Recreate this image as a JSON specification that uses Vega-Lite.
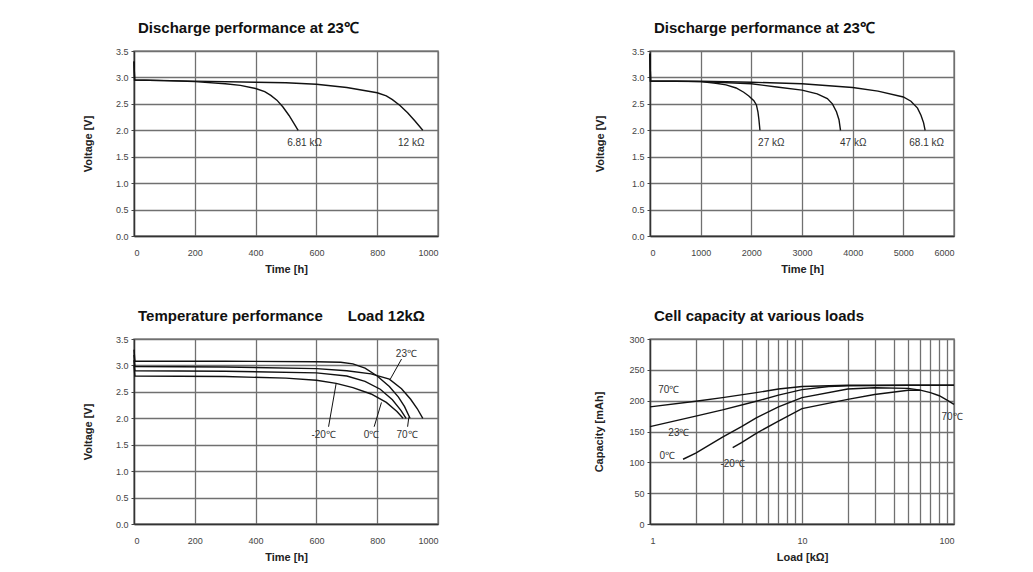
{
  "$schema": "https://vega.github.io/schema/vega-lite/v6.json",
  "background": "white",
  "padding": {"left": 81, "top": 20, "right": 10, "bottom": 10},
  "config": {
    "font": "Liberation Sans",
    "view": {"stroke": "#8a8a8a", "strokeWidth": 1.5},
    "axis": {
      "grid": true, "gridColor": "#707070", "gridWidth": 1.3,
      "domainColor": "#333", "domainWidth": 1.4,
      "labelFont": "Liberation Sans", "labelFontSize": 9, "labelColor": "#444",
      "titleFont": "Liberation Sans", "titleFontSize": 11, "titleFontWeight": "bold", "titleColor": "#222",
      "tickColor": "#444"
    },
    "axisX": {"ticks": false, "labelPadding": 12, "titlePadding": 6},
    "axisY": {"tickSize": 3, "labelPadding": 3, "titlePadding": 22},
    "title": {"anchor": "start", "frame": "group", "fontSize": 15, "fontWeight": "bold", "color": "#111", "baseline": "alphabetic", "offset": 11, "dx": 4},
    "text": {"font": "Liberation Sans", "fontSize": 10, "color": "#333"},
    "line": {"color": "#111", "strokeWidth": 1.4}
  },
  "datasets": {
    "p1": [
      {"s": "6.81", "t": 0, "v": 3.3}, {"s": "6.81", "t": 2, "v": 2.95}, {"s": "6.81", "t": 100, "v": 2.94}, {"s": "6.81", "t": 200, "v": 2.92}, {"s": "6.81", "t": 300, "v": 2.88}, {"s": "6.81", "t": 350, "v": 2.85}, {"s": "6.81", "t": 400, "v": 2.79}, {"s": "6.81", "t": 430, "v": 2.73}, {"s": "6.81", "t": 450, "v": 2.66}, {"s": "6.81", "t": 470, "v": 2.57}, {"s": "6.81", "t": 490, "v": 2.44}, {"s": "6.81", "t": 510, "v": 2.28}, {"s": "6.81", "t": 525, "v": 2.14}, {"s": "6.81", "t": 540, "v": 2.0},
      {"s": "12", "t": 0, "v": 3.3}, {"s": "12", "t": 2, "v": 2.95}, {"s": "12", "t": 200, "v": 2.93}, {"s": "12", "t": 400, "v": 2.91}, {"s": "12", "t": 500, "v": 2.9}, {"s": "12", "t": 600, "v": 2.87}, {"s": "12", "t": 700, "v": 2.81}, {"s": "12", "t": 800, "v": 2.71}, {"s": "12", "t": 830, "v": 2.65}, {"s": "12", "t": 850, "v": 2.58}, {"s": "12", "t": 875, "v": 2.47}, {"s": "12", "t": 900, "v": 2.33}, {"s": "12", "t": 925, "v": 2.17}, {"s": "12", "t": 950, "v": 2.0}
    ],
    "p1lab": [
      {"label": "6.81 kΩ", "t": 561, "v": 1.76},
      {"label": "12 kΩ", "t": 912, "v": 1.76}
    ],
    "p2": [
      {"s": "27", "t": 0, "v": 3.45}, {"s": "27", "t": 10, "v": 2.93}, {"s": "27", "t": 500, "v": 2.93}, {"s": "27", "t": 1000, "v": 2.92}, {"s": "27", "t": 1300, "v": 2.89}, {"s": "27", "t": 1500, "v": 2.86}, {"s": "27", "t": 1700, "v": 2.8}, {"s": "27", "t": 1850, "v": 2.72}, {"s": "27", "t": 1950, "v": 2.65}, {"s": "27", "t": 2050, "v": 2.56}, {"s": "27", "t": 2100, "v": 2.48}, {"s": "27", "t": 2130, "v": 2.35}, {"s": "27", "t": 2150, "v": 2.2}, {"s": "27", "t": 2170, "v": 2.0},
      {"s": "47", "t": 0, "v": 3.45}, {"s": "47", "t": 10, "v": 2.93}, {"s": "47", "t": 1000, "v": 2.92}, {"s": "47", "t": 2000, "v": 2.88}, {"s": "47", "t": 2500, "v": 2.82}, {"s": "47", "t": 3000, "v": 2.76}, {"s": "47", "t": 3300, "v": 2.69}, {"s": "47", "t": 3500, "v": 2.6}, {"s": "47", "t": 3600, "v": 2.5}, {"s": "47", "t": 3680, "v": 2.35}, {"s": "47", "t": 3730, "v": 2.2}, {"s": "47", "t": 3760, "v": 2.0},
      {"s": "68.1", "t": 0, "v": 3.45}, {"s": "68.1", "t": 10, "v": 2.93}, {"s": "68.1", "t": 1000, "v": 2.93}, {"s": "68.1", "t": 2000, "v": 2.91}, {"s": "68.1", "t": 3000, "v": 2.88}, {"s": "68.1", "t": 4000, "v": 2.81}, {"s": "68.1", "t": 4500, "v": 2.74}, {"s": "68.1", "t": 5000, "v": 2.63}, {"s": "68.1", "t": 5150, "v": 2.55}, {"s": "68.1", "t": 5280, "v": 2.42}, {"s": "68.1", "t": 5350, "v": 2.28}, {"s": "68.1", "t": 5400, "v": 2.14}, {"s": "68.1", "t": 5430, "v": 2.0}
    ],
    "p2lab": [
      {"label": "27 kΩ", "t": 2394, "v": 1.76},
      {"label": "47 kΩ", "t": 4010, "v": 1.76},
      {"label": "68.1 kΩ", "t": 5460, "v": 1.76}
    ],
    "p3": [
      {"s": "70", "t": 0, "v": 3.3}, {"s": "70", "t": 3, "v": 3.08}, {"s": "70", "t": 300, "v": 3.08}, {"s": "70", "t": 600, "v": 3.07}, {"s": "70", "t": 680, "v": 3.06}, {"s": "70", "t": 720, "v": 3.03}, {"s": "70", "t": 760, "v": 2.95}, {"s": "70", "t": 800, "v": 2.8}, {"s": "70", "t": 840, "v": 2.6}, {"s": "70", "t": 870, "v": 2.4}, {"s": "70", "t": 890, "v": 2.22}, {"s": "70", "t": 908, "v": 2.0},
      {"s": "23", "t": 0, "v": 3.2}, {"s": "23", "t": 3, "v": 2.98}, {"s": "23", "t": 300, "v": 2.97}, {"s": "23", "t": 600, "v": 2.94}, {"s": "23", "t": 700, "v": 2.9}, {"s": "23", "t": 780, "v": 2.84}, {"s": "23", "t": 840, "v": 2.74}, {"s": "23", "t": 880, "v": 2.56}, {"s": "23", "t": 910, "v": 2.36}, {"s": "23", "t": 932, "v": 2.18}, {"s": "23", "t": 950, "v": 2.0},
      {"s": "0", "t": 0, "v": 3.1}, {"s": "0", "t": 3, "v": 2.9}, {"s": "0", "t": 300, "v": 2.89}, {"s": "0", "t": 600, "v": 2.86}, {"s": "0", "t": 700, "v": 2.8}, {"s": "0", "t": 760, "v": 2.7}, {"s": "0", "t": 810, "v": 2.55}, {"s": "0", "t": 850, "v": 2.35}, {"s": "0", "t": 878, "v": 2.15}, {"s": "0", "t": 895, "v": 2.0},
      {"s": "-20", "t": 0, "v": 3.0}, {"s": "-20", "t": 3, "v": 2.8}, {"s": "-20", "t": 300, "v": 2.79}, {"s": "-20", "t": 500, "v": 2.76}, {"s": "-20", "t": 600, "v": 2.72}, {"s": "-20", "t": 665, "v": 2.66}, {"s": "-20", "t": 720, "v": 2.58}, {"s": "-20", "t": 780, "v": 2.46}, {"s": "-20", "t": 830, "v": 2.3}, {"s": "-20", "t": 865, "v": 2.13}, {"s": "-20", "t": 885, "v": 2.0}
    ],
    "p3lab": [
      {"label": "23℃", "t": 896, "v": 3.22},
      {"label": "-20℃", "t": 624, "v": 1.69},
      {"label": "0℃", "t": 781, "v": 1.69},
      {"label": "70℃", "t": 898, "v": 1.69}
    ],
    "p3lead": [
      {"t": 880, "v": 3.12, "t2": 843, "v2": 2.74},
      {"t": 640, "v": 1.84, "t2": 665, "v2": 2.66},
      {"t": 790, "v": 1.84, "t2": 814, "v2": 2.3},
      {"t": 900, "v": 1.84, "t2": 904, "v2": 2.02}
    ],
    "p4": [
      {"s": "70a", "x": 1, "y": 190}, {"s": "70a", "x": 2, "y": 199}, {"s": "70a", "x": 3, "y": 205}, {"s": "70a", "x": 5, "y": 213}, {"s": "70a", "x": 7, "y": 219}, {"s": "70a", "x": 10, "y": 223}, {"s": "70a", "x": 20, "y": 225}, {"s": "70a", "x": 50, "y": 225}, {"s": "70a", "x": 100, "y": 225},
      {"s": "23", "x": 1, "y": 158}, {"s": "23", "x": 2, "y": 175}, {"s": "23", "x": 3, "y": 185}, {"s": "23", "x": 5, "y": 199}, {"s": "23", "x": 7, "y": 209}, {"s": "23", "x": 10, "y": 218}, {"s": "23", "x": 15, "y": 223}, {"s": "23", "x": 20, "y": 224}, {"s": "23", "x": 50, "y": 225}, {"s": "23", "x": 100, "y": 225},
      {"s": "0", "x": 1.65, "y": 105}, {"s": "0", "x": 2, "y": 115}, {"s": "0", "x": 3, "y": 141}, {"s": "0", "x": 4, "y": 158}, {"s": "0", "x": 5, "y": 172}, {"s": "0", "x": 7, "y": 190}, {"s": "0", "x": 10, "y": 205}, {"s": "0", "x": 20, "y": 219}, {"s": "0", "x": 30, "y": 221}, {"s": "0", "x": 50, "y": 220}, {"s": "0", "x": 60, "y": 217}, {"s": "0", "x": 70, "y": 213}, {"s": "0", "x": 80, "y": 208}, {"s": "0", "x": 90, "y": 201}, {"s": "0", "x": 100, "y": 194},
      {"s": "-20", "x": 3.5, "y": 124}, {"s": "-20", "x": 4, "y": 132}, {"s": "-20", "x": 5, "y": 147}, {"s": "-20", "x": 7, "y": 167}, {"s": "-20", "x": 10, "y": 187}, {"s": "-20", "x": 20, "y": 202}, {"s": "-20", "x": 30, "y": 210}, {"s": "-20", "x": 50, "y": 217}, {"s": "-20", "x": 60, "y": 217}
    ],
    "p4lab": [
      {"label": "70℃", "x": 1.33, "y": 218},
      {"label": "23℃", "x": 1.55, "y": 147},
      {"label": "0℃", "x": 1.3, "y": 110},
      {"label": "-20℃", "x": 3.5, "y": 97},
      {"label": "70℃", "x": 97, "y": 174}
    ]
  },
  "columns": 2,
  "bounds": "flush",
  "spacing": {"row": 103, "column": 212},
  "concat": [
    {
      "width": 304, "height": 185,
      "title": {"text": "Discharge performance at 23℃"},
      "encoding": {
        "x": {"field": "t", "type": "quantitative", "scale": {"domain": [0, 1000], "nice": false}, "axis": {"title": "Time [h]", "values": [0, 200, 400, 600, 800, 1000], "format": "d"}},
        "y": {"field": "v", "type": "quantitative", "scale": {"domain": [0, 3.5], "nice": false}, "axis": {"title": "Voltage [V]", "values": [0, 0.5, 1, 1.5, 2, 2.5, 3, 3.5], "format": ".1f"}}
      },
      "layer": [
        {
          "data": {"name": "p1"},
          "mark": {"type": "line"},
          "encoding": {"detail": {"field": "s", "type": "nominal"}}
        },
        {
          "data": {"name": "p1lab"},
          "mark": {"type": "text"},
          "encoding": {"text": {"field": "label"}}
        }
      ]
    },
    {
      "width": 304, "height": 185,
      "title": {"text": "Discharge performance at 23℃"},
      "encoding": {
        "x": {"field": "t", "type": "quantitative", "scale": {"domain": [0, 6000], "nice": false}, "axis": {"title": "Time [h]", "values": [0, 1000, 2000, 3000, 4000, 5000, 6000], "format": "d"}},
        "y": {"field": "v", "type": "quantitative", "scale": {"domain": [0, 3.5], "nice": false}, "axis": {"title": "Voltage [V]", "values": [0, 0.5, 1, 1.5, 2, 2.5, 3, 3.5], "format": ".1f", "titlePadding": 26}}
      },
      "layer": [
        {
          "data": {"name": "p2"},
          "mark": {"type": "line"},
          "encoding": {"detail": {"field": "s", "type": "nominal"}}
        },
        {
          "data": {"name": "p2lab"},
          "mark": {"type": "text"},
          "encoding": {"text": {"field": "label"}}
        }
      ]
    },
    {
      "width": 304, "height": 185,
      "title": {"text": "Temperature performance\u00a0\u00a0\u00a0\u00a0\u00a0\u00a0Load 12kΩ"},
      "encoding": {
        "x": {"field": "t", "type": "quantitative", "scale": {"domain": [0, 1000], "nice": false}, "axis": {"title": "Time [h]", "values": [0, 200, 400, 600, 800, 1000], "format": "d"}},
        "y": {"field": "v", "type": "quantitative", "scale": {"domain": [0, 3.5], "nice": false}, "axis": {"title": "Voltage [V]", "values": [0, 0.5, 1, 1.5, 2, 2.5, 3, 3.5], "format": ".1f"}}
      },
      "layer": [
        {
          "data": {"name": "p3"},
          "mark": {"type": "line"},
          "encoding": {"detail": {"field": "s", "type": "nominal"}}
        },
        {
          "data": {"name": "p3lead"},
          "mark": {"type": "rule", "color": "#111", "strokeWidth": 1},
          "encoding": {
            "x2": {"field": "t2"},
            "y2": {"field": "v2"}
          }
        },
        {
          "data": {"name": "p3lab"},
          "mark": {"type": "text"},
          "encoding": {"text": {"field": "label"}}
        }
      ]
    },
    {
      "width": 304, "height": 185,
      "title": {"text": "Cell capacity at various loads"},
      "encoding": {
        "x": {"field": "x", "type": "quantitative", "scale": {"type": "log", "domain": [1, 100], "nice": false}, "axis": {"title": "Load [kΩ]", "values": [1, 2, 3, 4, 5, 6, 7, 8, 9, 10, 20, 30, 40, 50, 60, 70, 80, 90, 100], "labelOverlap": false, "labelExpr": "(datum.value == 1 || datum.value == 10 || datum.value == 100) ? format(datum.value, 'd') : ''"}},
        "y": {"field": "y", "type": "quantitative", "scale": {"domain": [0, 300], "nice": false}, "axis": {"title": "Capacity [mAh]", "values": [0, 50, 100, 150, 200, 250, 300], "format": "d", "titlePadding": 24}}
      },
      "layer": [
        {
          "data": {"name": "p4"},
          "mark": {"type": "line"},
          "encoding": {"detail": {"field": "s", "type": "nominal"}}
        },
        {
          "data": {"name": "p4lab"},
          "mark": {"type": "text"},
          "encoding": {"text": {"field": "label"}}
        }
      ]
    }
  ]
}
